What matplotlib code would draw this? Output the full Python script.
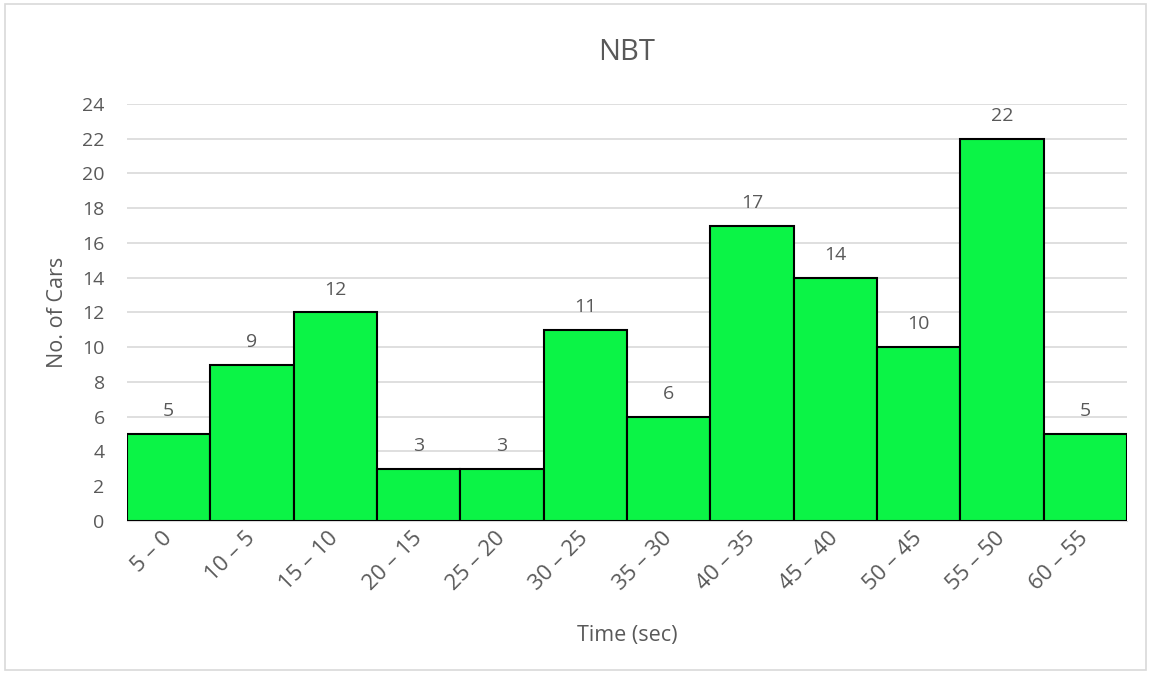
import matplotlib
matplotlib.use("Agg")
import matplotlib.pyplot as plt
from matplotlib.patches import Rectangle

categories = ["5 – 0", "10 – 5", "15 – 10", "20 – 15", "25 – 20", "30 – 25",
              "35 – 30", "40 – 35", "45 – 40", "50 – 45", "55 – 50", "60 – 55"]
counts = [5, 9, 12, 3, 3, 11, 6, 17, 14, 10, 22, 5]
y_ticks = list(range(0, 25, 2))

plt.rcParams['font.family'] = ['Open Sans', 'DejaVu Sans']
text_color = '#595959'

fig = plt.figure(figsize=(11.51, 6.73), dpi=100)
fig.patches.append(Rectangle((0.004, 0.004), 0.992, 0.99, transform=fig.transFigure,
                             fill=False, edgecolor='#D9D9D9', linewidth=1.2))
ax = fig.add_axes([0.1103, 0.2259, 0.8688, 0.6196])

x = range(len(categories))
ax.bar(x, counts, width=1.0, color='#0BF446', edgecolor='black', linewidth=1.5, zorder=3)
for xi, v in zip(x, counts):
    ax.annotate(str(v), (xi, v), xytext=(0, 10), textcoords='offset points',
                ha='center', va='bottom', fontsize=14, color=text_color)

ax.set_xlim(-0.5, len(categories) - 0.5)
ax.set_ylim(0, 24)
ax.set_yticks(y_ticks)
ax.yaxis.grid(True, color='#D9D9D9', linewidth=1.2, zorder=0)
ax.set_axisbelow(True)
for s in ['top', 'right', 'left']:
    ax.spines[s].set_visible(False)
ax.spines['bottom'].set_color('#D9D9D9')
ax.tick_params(axis='both', length=0, labelsize=14, colors=text_color)
ax.tick_params(axis='y', pad=16)
ax.set_xticks(list(x))
ax.set_xticklabels(categories, rotation=45, ha='right', va='center',
                   rotation_mode='anchor', fontsize=16)
ax.tick_params(axis='x', pad=10)

ax.set_title("NBT", fontsize=21, color=text_color, pad=32)
ax.set_xlabel("Time (sec)", fontsize=15.5, color=text_color, labelpad=22)
ax.set_ylabel("No. of Cars", fontsize=15.5, color=text_color, labelpad=10)

fig.savefig("out.png", dpi=100)
